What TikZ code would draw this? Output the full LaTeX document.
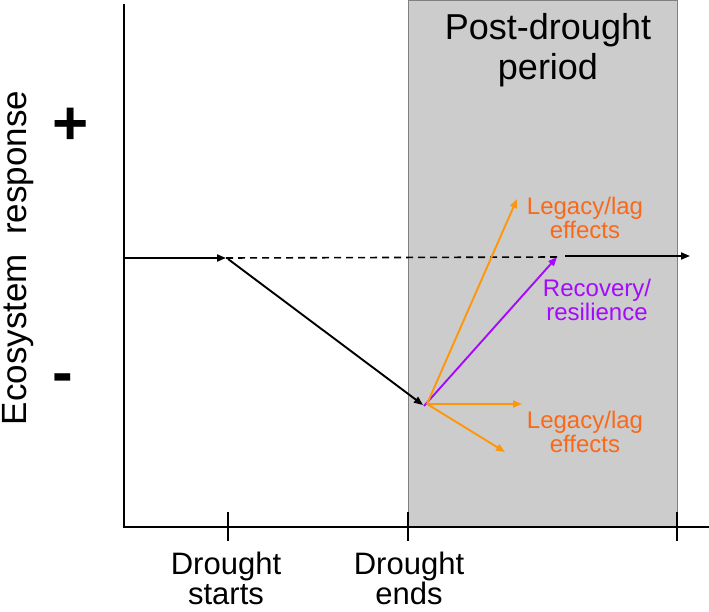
\documentclass[tikz,border=0pt]{standalone}
\usepackage{fontspec}
\setmainfont{Liberation Sans}
\usetikzlibrary{arrows.meta}
\definecolor{lagorange}{RGB}{255,150,10}
\definecolor{lagtext}{RGB}{250,105,25}
\definecolor{recpurple}{RGB}{165,10,255}
\definecolor{postgray}{RGB}{204,204,204}
\begin{document}
\begin{tikzpicture}[x=1pt, y=-1pt, line width=1.9pt,
  arr/.style={-{Triangle[length=9pt,width=7pt]}},
  axlbl/.style={align=center, font=\fontsize{31}{30}\selectfont},
  efx/.style={align=center, text=lagtext, font=\fontsize{24}{24}\selectfont}]
\useasboundingbox (0,0) rectangle (709,612);
% post-drought shading
\draw[fill=postgray, draw=gray, line width=0.8pt] (408,0) rectangle (677,527);
\node[axlbl, font=\fontsize{36}{40}\selectfont] (post) at (548,50) {Post-drought\\period};
% axes and ticks
\coordinate (ytop) at (124,4);
\coordinate (orig) at (124,527);
\coordinate (xend) at (709,527);
\draw (ytop) -- (orig) -- (xend);
\foreach \x in {228,408,677} {
  \draw (\x,512) -- (\x,541);
}
\node[axlbl] (dstart) at (226,578) {Drought\\starts};
\node[axlbl] (dends) at (409,578) {Drought\\ends};
\node[rotate=90, font=\fontsize{35}{35}\selectfont] (yresp) at (18,258) {Ecosystem\ \ response};
\node[font=\fontsize{62}{62}\selectfont\bfseries] (plus) at (71,126) {+};
\node[font=\fontsize{62}{62}\selectfont\bfseries] (minus) at (63,384) {-};
% response path
\coordinate (pre) at (124,258);
\coordinate (onset) at (226,258);
\coordinate (low) at (423,405);
\coordinate (back) at (557,257);
\coordinate (after) at (565,256);
\coordinate (far) at (690,256);
\draw[arr] (pre) -- (onset);
\draw[dashed, line width=1.6pt, dash pattern=on 7pt off 5pt] (onset) -- (back);
\draw[arr] (228,259) -- (low);
\draw[arr] (after) -- (far);
% post-drought trajectories
\coordinate (pivot) at (427,404);
\coordinate (lagup) at (517,199);
\coordinate (lagflat) at (522,404);
\coordinate (lagdown) at (505,452);
\draw[arr, recpurple] (424,406) -- (back);
\foreach \t in {lagup,lagflat,lagdown} {
  \draw[arr, lagorange] (pivot) -- (\t);
}
\node[efx] (efxup) at (585,218) {Legacy/lag\\effects};
\node[efx] (efxdown) at (585,432) {Legacy/lag\\effects};
\node[efx, text=recpurple] (recov) at (597,300) {Recovery/\\resilience};
\end{tikzpicture}
\end{document}
